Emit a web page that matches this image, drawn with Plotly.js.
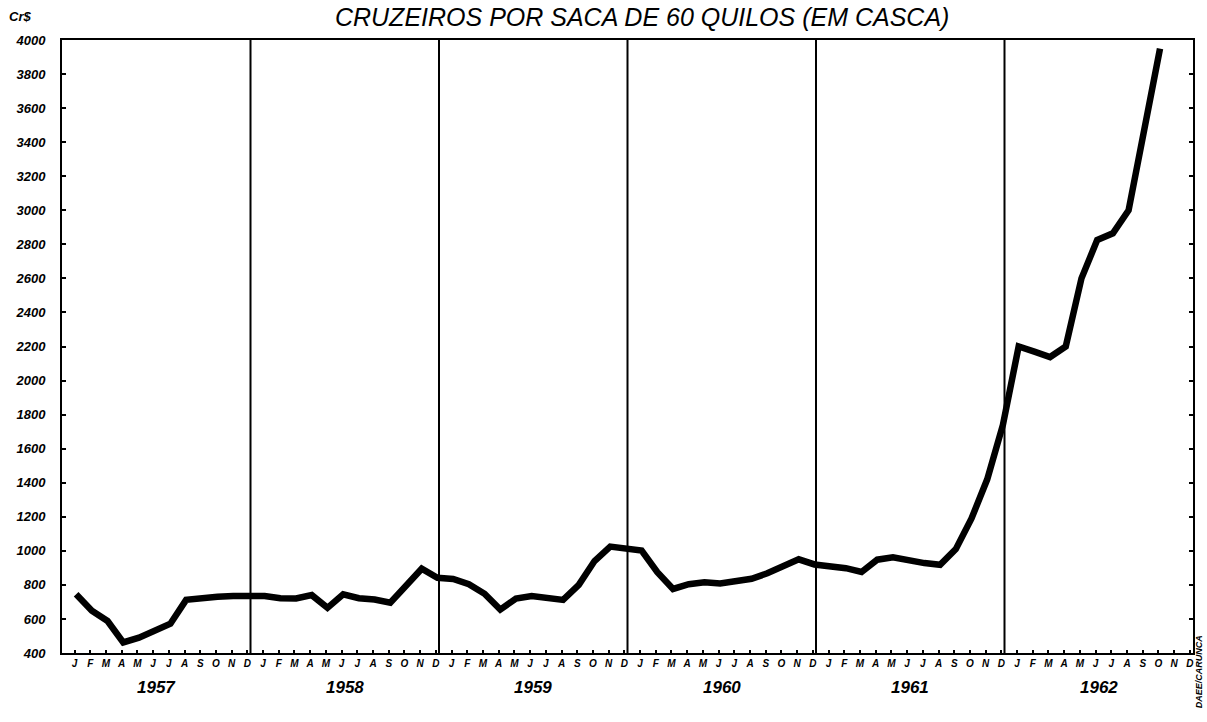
<!DOCTYPE html>
<html>
<head>
<meta charset="utf-8">
<script src="https://cdn.plot.ly/plotly-3.0.1.min.js"></script>
<style>html,body{margin:0;padding:0;background:#fff;}#chart{width:1207px;height:722px;}</style>
</head>
<body>
<div id="chart"></div>
<script>
// Data (Cr$ por saca de 60 quilos, em casca), monthly 1957-1962
const years = ["1957", "1958", "1959", "1960", "1961", "1962"];
const monthLetters = ["J", "F", "M", "A", "M", "J", "J", "A", "S", "O", "N", "D"];
const price1957 = [745, 648, 588, 462, 490, 530, 572, 712, 725, 730, 735, 732];
const price1958 = [735, 722, 720, 740, 665, 745, 722, 714, 695, 795, 895, 842];
const price1959 = [835, 804, 748, 655, 720, 735, 728, 712, 800, 940, 1025, 1012];
const price1960 = [1002, 875, 776, 804, 815, 808, 818, 836, 868, 905, 950, 920];
const price1961 = [912, 898, 876, 948, 962, 942, 928, 918, 1010, 1190, 1420, 1740];
const price1962 = [2200, 2170, 2138, 2200, 2600, 2825, 2865, 3000, 3470, 3950];
const yTicks = [400, 600, 800, 1000, 1200, 1400, 1600, 1800, 2000, 2200, 2400, 2600, 2800, 3000, 3200, 3400, 3600, 3800, 4000];
const titleText = "CRUZEIROS POR SACA DE 60 QUILOS (EM CASCA)";
const unitText = "Cr$";
const creditText = "DAEE/CARUNCA";

const series = [price1957, price1958, price1959, price1960, price1961, price1962];
const xs = [], ys = [];
series.forEach((arr, yi) => arr.forEach((v, mi) => { xs.push(yi * 12 + mi + 0.9); ys.push(v); }));

const tickvals = [], ticktext = [];
years.forEach((y, yi) => monthLetters.forEach((m, mi) => { tickvals.push(yi * 12 + mi + 0.8); ticktext.push(m); }));

const FONT = "Liberation Sans, DejaVu Sans, sans-serif";
const shapes = [];
for (let k = 1; k < years.length; k++) {
  shapes.push({type: 'line', xref: 'x', yref: 'paper', x0: k * 12, x1: k * 12, y0: 0, y1: 1, line: {color: '#000', width: 2}});
}
const annotations = years.map((y, yi) => ({
  x: yi * 12 + 6, xref: 'x', xanchor: 'center', y: -0.057, yref: 'paper', yanchor: 'middle', text: y, showarrow: false,
  font: {family: FONT, size: 17, color: '#000', style: 'italic', weight: 'bold'}
}));
annotations.push({x: -0.037, xref: 'paper', xanchor: 'center', y: 1.038, yref: 'paper', yanchor: 'middle', text: unitText, showarrow: false,
  font: {family: FONT, size: 13, color: '#000', style: 'italic', weight: 'bold'}});
annotations.push({x: 1.006, xref: 'paper', xanchor: 'center', y: -0.03, yref: 'paper', yanchor: 'middle', text: creditText, showarrow: false, textangle: -90,
  font: {family: FONT, size: 9, color: '#000', style: 'italic', weight: 'bold'}});

const trace = {x: xs, y: ys, type: 'scatter', mode: 'lines', line: {color: '#000', width: 6.5, shape: 'linear'}, hoverinfo: 'skip'};

const layout = {
  width: 1207, height: 722,
  margin: {l: 62, r: 14, t: 40, b: 69},
  paper_bgcolor: '#fff', plot_bgcolor: '#fff',
  showlegend: false,
  title: {text: titleText, x: 0.513, xref: 'paper', xanchor: 'center', y: 0.976, yref: 'container', yanchor: 'middle',
    font: {family: FONT, size: 25, color: '#000', style: 'italic'}},
  xaxis: {range: [0, 72], tickmode: 'array', tickvals: tickvals, ticktext: ticktext, showgrid: false, zeroline: false,
    showline: true, linecolor: '#000', linewidth: 2, mirror: true, ticks: 'inside', ticklen: 3, tickwidth: 2, tickcolor: '#000',
    tickangle: 0, tickfont: {family: FONT, size: 10, color: '#000', style: 'italic', weight: 'bold'}},
  yaxis: {range: [400, 4000], tickmode: 'array', tickvals: yTicks, ticktext: yTicks.map(String), showgrid: false, zeroline: false,
    showline: true, linecolor: '#000', linewidth: 2, mirror: 'ticks', ticks: 'inside', ticklen: 4, tickwidth: 2, tickcolor: '#000',
    ticklabelstandoff: 12,
    tickfont: {family: FONT, size: 13, color: '#000', style: 'italic', weight: 'bold'}},
  shapes: shapes,
  annotations: annotations
};
Plotly.newPlot('chart', [trace], layout, {displayModeBar: false, staticPlot: true});
</script>
</body>
</html>
